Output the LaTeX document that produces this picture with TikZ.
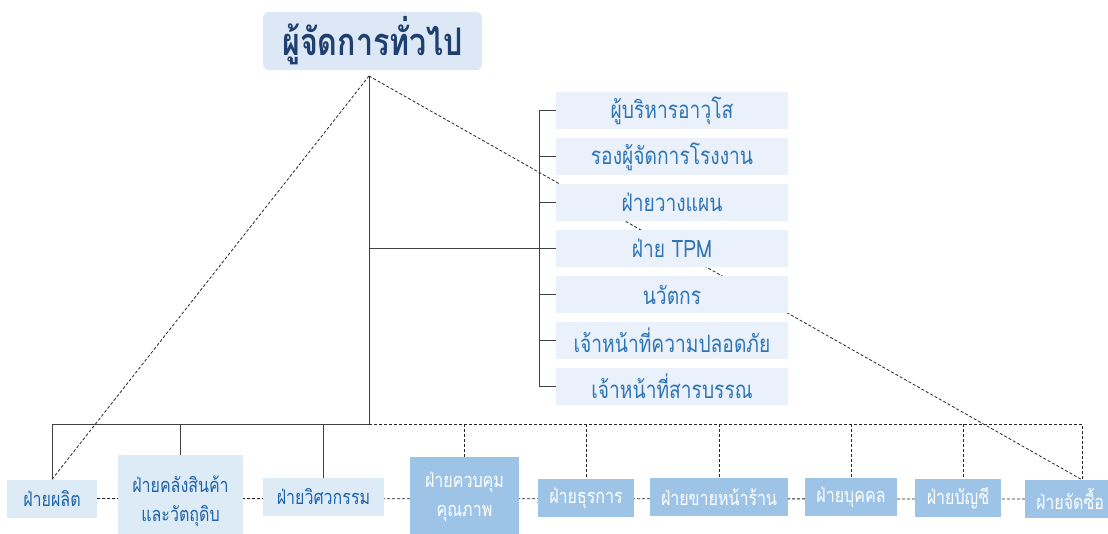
\documentclass[tikz,border=0pt]{standalone}
\usepackage{fontspec}
\newfontfamily\thaifont[Script=Thai,FakeStretch=0.8]{Loma}
\usepackage{tikz}
\usetikzlibrary{calc,backgrounds}

\definecolor{chieffill}{HTML}{DCE8F5}
\definecolor{chieftext}{HTML}{1F3F6E}
\definecolor{stafffill}{HTML}{EAF1FA}
\definecolor{stafftext}{HTML}{2E75B6}
\definecolor{deptfill}{HTML}{DDEBF7}
\definecolor{depttext}{HTML}{1F62A8}
\definecolor{darkfill}{HTML}{9DC3E6}
\definecolor{linegray}{HTML}{404040}

\begin{document}
\begin{tikzpicture}[x=1pt,y=-1pt,
    chief/.style={rectangle,rounded corners=6pt,fill=chieffill,text=chieftext,inner sep=0pt,
        minimum width=219pt,minimum height=58pt,font=\thaifont\bfseries\fontsize{38}{42}\selectfont},
    staff/.style={rectangle,fill=stafffill,text=stafftext,inner sep=0pt,
        minimum width=232pt,minimum height=37pt,font=\thaifont\fontsize{24}{28}\selectfont},
    dept/.style={rectangle,fill=deptfill,text=depttext,inner sep=0pt,align=center,
        minimum height=38pt,font=\thaifont\fontsize{20}{29}\selectfont},
    deptdark/.style={dept,fill=darkfill,text=white},
    solidline/.style={draw=linegray,line width=0.9pt},
    dotline/.style={draw=black!85,line width=0.8pt,dash pattern=on 3pt off 2pt}]
\useasboundingbox (0,0) rectangle (1108,533);

\node[chief] (gm) at (372.5,41) {ผู้จัดการทั่วไป};
\coordinate (top) at (369,76);
\coordinate (hub) at (369,424);

\node[staff] (r1) at (672,110.5) {ผู้บริหารอาวุโส};
\node[staff] (r2) at (672,156.5) {รองผู้จัดการโรงงาน};
\node[staff] (r3) at (672,202.5) {ฝ่ายวางแผน};
\node[staff] (r4) at (672,248.5) {ฝ่าย TPM};
\node[staff] (r5) at (672,294.5) {นวัตกร};
\node[staff] (r6) at (672,340.5) {เจ้าหน้าที่ความปลอดภัย};
\node[staff] (r7) at (672,386.5) {เจ้าหน้าที่สารบรรณ};
\coordinate (rt) at (539,110.5);
\coordinate (rb) at (539,386.5);

\node[dept,minimum width=90pt] (b1) at (52,498.5) {ฝ่ายผลิต};
\node[dept,minimum width=125pt,minimum height=92pt] (b2) at (180.5,501) {ฝ่ายคลังสินค้า\\และวัตถุดิบ};
\node[dept,minimum width=121pt] (b3) at (323.5,497) {ฝ่ายวิศวกรรม};
\node[deptdark,minimum width=109pt,minimum height=80pt] (b4) at (464.5,497) {ฝ่ายควบคุม\\คุณภาพ};
\node[deptdark,minimum width=96pt] (b5) at (586,498) {ฝ่ายธุรการ};
\node[deptdark,minimum width=138pt] (b6) at (719,497) {ฝ่ายขายหน้าร้าน};
\node[deptdark,minimum width=92pt] (b7) at (851,497) {ฝ่ายบุคคล};
\node[deptdark,minimum width=86pt] (b8) at (958,498) {ฝ่ายบัญชี};
\node[deptdark,minimum width=90pt] (b9) at (1070,499) {ฝ่ายจัดซื้อ};
\coordinate (end) at ($(b9.north)+(12,0)$);

\begin{scope}[on background layer]
\path[solidline] (top) -- (hub);
\path[solidline] (hub) -| (b1.north);
\path[solidline] (hub -| b2.north) -- (b2.north);
\path[solidline] (hub -| b3.north) -- (b3.north);
\path[solidline] (r4.west) -- (r4.west -| hub);
\path[solidline] (r1.west) -- (rt) -- (rb) -- (r7.west);
\path[solidline] (r2.west) -- (r2.west -| rt);
\path[solidline] (r3.west) -- (r3.west -| rt);
\path[solidline] (r5.west) -- (r5.west -| rt);
\path[solidline] (r6.west) -- (r6.west -| rt);

\path[dotline] (hub) -| (end);
\path[dotline] (hub -| b4.north) -- (b4.north);
\path[dotline] (hub -| b5.north) -- (b5.north);
\path[dotline] (hub -| b6.north) -- (b6.north);
\path[dotline] (hub -| b7.north) -- (b7.north);
\path[dotline] ($(hub -| b8.north)+(5,0)$) -- ($(b8.north)+(5,0)$);
\path[dotline] (b1.center) -- (b9.center);
\path[dotline] (top) -- (b1.north);
\path[dotline] (top) -- (end);
\end{scope}
\end{tikzpicture}
\end{document}
